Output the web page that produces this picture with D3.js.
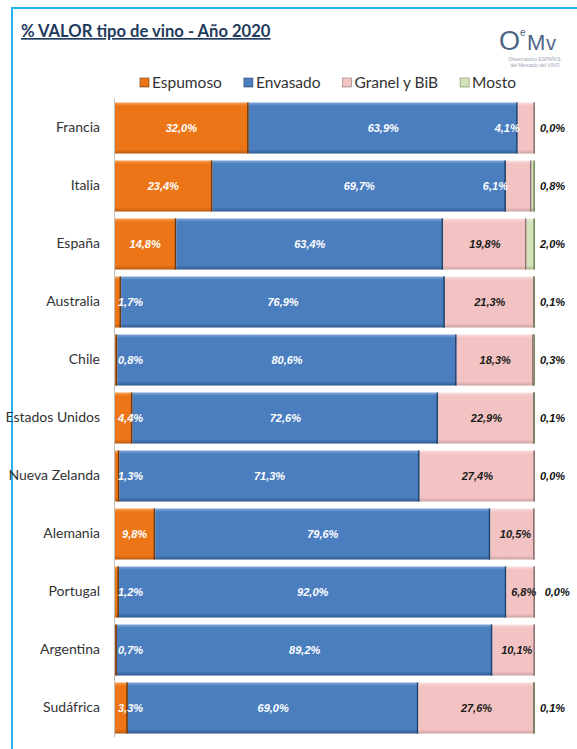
<!DOCTYPE html>
<html><head><meta charset="utf-8">
<script src="https://cdn.jsdelivr.net/npm/d3@7"></script>
<style>body{margin:0;background:#fff}svg{display:block}</style>
</head><body><svg id="c" width="577" height="749"></svg>
<script>
const countries = ["Francia","Italia","España","Australia","Chile","Estados Unidos","Nueva Zelanda","Alemania","Portugal","Argentina","Sudáfrica"];
const espumoso = [32.0,23.4,14.8,1.7,0.8,4.4,1.3,9.8,1.2,0.7,3.3];
const envasado = [63.9,69.7,63.4,76.9,80.6,72.6,71.3,79.6,92.0,89.2,69.0];
const granel   = [4.1,6.1,19.8,21.3,18.3,22.9,27.4,10.5,6.8,10.1,27.6];
const mosto    = [0.0,0.8,2.0,0.1,0.3,0.1,0.0,null,0.0,null,0.1];
const seriesNames = ["Espumoso","Envasado","Granel y BiB","Mosto"];
const titleText = "% VALOR tipo de vino - Año 2020";

const palette = [
  {base:"#EC7517", light:"#F7A25A", dark:"#B85A10", edge:"#6b3a10"},
  {base:"#4A7EBF", light:"#80A7D8", dark:"#30598E", edge:"#22426a"},
  {base:"#F2C3C2", light:"#FBE0DF", dark:"#CDA3A2", edge:"#8a7272"},
  {base:"#D4E2BA", light:"#EAF1DC", dark:"#A9B98F", edge:"#788a5e"}
];

const svg = d3.select("#c");
const defs = svg.append("defs");
palette.forEach((p,i)=>{
  const g = defs.append("linearGradient").attr("id","g"+i).attr("x1",0).attr("x2",0).attr("y1",0).attr("y2",1);
  g.append("stop").attr("offset","0").attr("stop-color",p.light);
  g.append("stop").attr("offset","0.07").attr("stop-color",p.base);
  g.append("stop").attr("offset","0.92").attr("stop-color",p.base);
  g.append("stop").attr("offset","1").attr("stop-color",p.dark);
});

// frame
svg.append("line").attr("x1",12).attr("x2",577).attr("y1",8).attr("y2",8).attr("stroke","#22B2EE").attr("stroke-width",2);
svg.append("line").attr("x1",12).attr("x2",12).attr("y1",7).attr("y2",749).attr("stroke","#22B2EE").attr("stroke-width",2);

// title
svg.append("text").attr("x",21).attr("y",37).text(titleText)
  .attr("font-family","Lato, 'Open Sans', sans-serif").attr("font-weight","bold").attr("font-size",16.6)
  .attr("fill","#1F3A5C").attr("text-decoration","underline");

// logo
const logo = svg.append("g").attr("fill","#4D6584").attr("font-family","'Liberation Sans', sans-serif");
logo.append("text").attr("x",499).attr("y",50).attr("font-size",27).text("O");
logo.append("text").attr("x",520).attr("y",36).attr("font-size",10).text("e");
logo.append("text").attr("x",527).attr("y",50).attr("font-size",22).attr("font-weight","300").text("M");
logo.append("text").attr("x",546).attr("y",50).attr("font-size",20).text("v");
logo.append("text").attr("x",535).attr("y",61).attr("font-size",5).attr("text-anchor","middle").attr("fill","#9aa6b4").text("Observatorio ESPAÑOL");
logo.append("text").attr("x",535).attr("y",67).attr("font-size",5).attr("text-anchor","middle").attr("fill","#9aa6b4").text("del Mercado del VINO");

// legend
const legend = svg.append("g").attr("font-family","Lato, 'Open Sans', sans-serif").attr("font-size",15.5).attr("fill","#333");
let lx = 140;
seriesNames.forEach((n,i)=>{
  legend.append("rect").attr("x",lx).attr("y",78).attr("width",9).attr("height",9)
    .attr("fill","url(#g"+i+")").attr("stroke",palette[i].edge).attr("stroke-width",0.6);
  const t = legend.append("text").attr("x",lx+12).attr("y",88).text(n);
  lx += 12 + t.node().getComputedTextLength() + 22;
});

// scales
const x = d3.scaleLinear().domain([0,100]).range([114,535]);
const y = d3.scaleBand().domain(countries).range([99,737]).paddingInner(0.12).paddingOuter(0.06);

const rows = countries.map((c,i)=>({country:c, s0:espumoso[i], s1:envasado[i], s2:granel[i], s3:mosto[i]==null?0:mosto[i], hasM:mosto[i]!=null}));
const stack = d3.stack().keys(["s0","s1","s2","s3"]);
const stacked = stack(rows);

const gBars = svg.append("g");
stacked.forEach((layer,i)=>{
  const g = gBars.append("g");
  g.selectAll("rect").data(layer).join("rect")
    .attr("x",d=>x(d[0])).attr("y",d=>y(d.data.country))
    .attr("width",d=>Math.max(0,x(d[1])-x(d[0]))).attr("height",y.bandwidth())
    .attr("fill","url(#g"+i+")");
  g.selectAll("line").data(layer.filter(d=>d[1]-d[0]>0.05)).join("line")
    .attr("x1",d=>x(d[1])-0.8).attr("x2",d=>x(d[1])-0.8)
    .attr("y1",d=>y(d.data.country)).attr("y2",d=>y(d.data.country)+y.bandwidth())
    .attr("stroke",palette[i].edge).attr("stroke-width",1.6);
});

// axis line
svg.append("line").attr("x1",114.5).attr("x2",114.5).attr("y1",99).attr("y2",737).attr("stroke","#BFBFBF").attr("stroke-width",1);

// country labels via axis
const yAxis = svg.append("g").attr("transform","translate(114,0)").call(d3.axisLeft(y).tickSize(0).tickPadding(14));
yAxis.select(".domain").remove();
yAxis.selectAll("text").attr("font-family","Lato, 'Open Sans', sans-serif").attr("font-size",14).attr("fill","#333");

const fmt = v => v.toFixed(1).replace(".",",")+"%";
const lblFont = "'Liberation Sans', Arial, sans-serif";
const labels = svg.append("g").attr("font-family",lblFont).attr("font-size",11).attr("font-weight","bold").attr("font-style","italic");

stacked.forEach((layer,i)=>{
  layer.forEach(d=>{
    const r = d.data, cy = y(r.country)+y.bandwidth()/2+4;
    const v = d[1]-d[0], x0 = x(d[0]), x1 = x(d[1]);
    if(i===3){
      if(!r.hasM) return;
      const prev = stacked[2].find(e=>e.data===r);
      let sx = x1 + 5;
      if(r.s2 >= 6.5 && (x(prev[1]) - x(prev[0])) < 36) sx = Math.max(sx, (x(prev[0])+x(prev[1]))/2 + 18 + 6);
      labels.append("text").attr("x",sx).attr("y",cy).attr("fill","#111").text(fmt(v));
      return;
    }
    const t = labels.append("text").attr("y",cy).text(fmt(v));
    const w = t.node().getComputedTextLength();
    if(i===0){
      t.attr("fill","#fff").attr("text-anchor","middle").attr("x",Math.max((x0+x1)/2, x0+4+w/2));
    } else if(i===1){
      t.attr("fill","#fff").attr("text-anchor","middle").attr("x",(x0+x1)/2);
    } else {
      if(v < 6.5){
        t.attr("fill","#fff").attr("text-anchor","end").attr("x",x0+2);
      } else {
        t.attr("fill","#1a1a1a").attr("text-anchor","middle").attr("x",(x0+x1)/2 + (x1-x0<50?3:0));
      }
    }
  });
});
</script></body></html>
